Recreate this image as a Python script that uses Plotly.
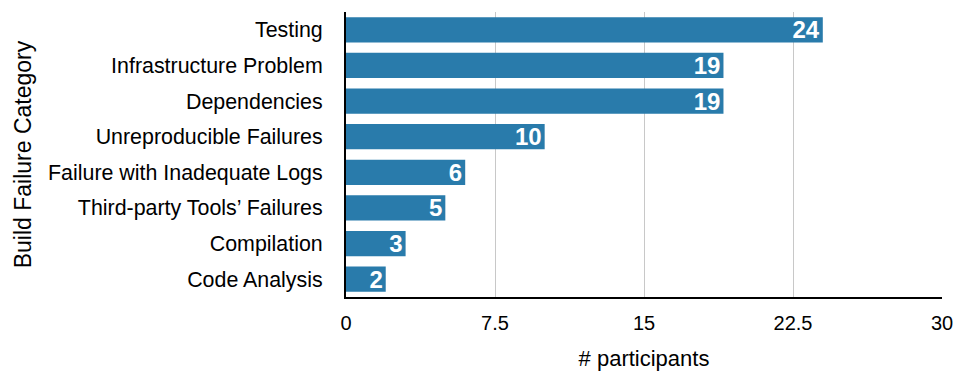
import plotly.graph_objects as go

categories = ["Testing", "Infrastructure Problem", "Dependencies", "Unreproducible Failures",
              "Failure with Inadequate Logs", "Third-party Tools’ Failures", "Compilation", "Code Analysis"]
values = [24, 19, 19, 10, 6, 5, 3, 2]
tick_vals = [0, 7.5, 15, 22.5, 30]
tick_text = ["0", "7.5", "15", "22.5", "30"]

font_family = "Liberation Sans, Arial, Helvetica, sans-serif"

fig = go.Figure(go.Bar(
    y=categories[::-1], x=values[::-1], orientation="h",
    marker=dict(color="rgb(41,123,171)", line=dict(width=0)),
    text=[str(v) for v in values[::-1]], textposition="inside",
    insidetextanchor="end", textangle=0, constraintext="none",
    textfont=dict(color="white", size=24, family=font_family, weight="bold"),
    cliponaxis=False,
))

fig.update_layout(
    width=958, height=374,
    margin=dict(l=346, r=16, t=12, b=77),
    plot_bgcolor="white", paper_bgcolor="white",
    bargap=0.29,
    showlegend=False,
    font=dict(family=font_family, color="black"),
)
fig.update_xaxes(
    range=[0, 30], tickvals=tick_vals, ticktext=tick_text,
    showgrid=True, gridcolor="#c8c8c8", gridwidth=1,
    showline=True, linecolor="black", linewidth=2,
    ticks="", tickfont=dict(size=20), ticklabelstandoff=7,
    title=dict(text="# participants", font=dict(size=22), standoff=18),
    zeroline=False, automargin=False,
)
fig.update_yaxes(
    showline=True, linecolor="black", linewidth=2,
    ticks="", tickfont=dict(size=21.4), ticklabelstandoff=17,
    title=dict(text="Build Failure Category", font=dict(size=23), standoff=10),
    showgrid=False, automargin=False,
)

fig.write_html("out.html")
